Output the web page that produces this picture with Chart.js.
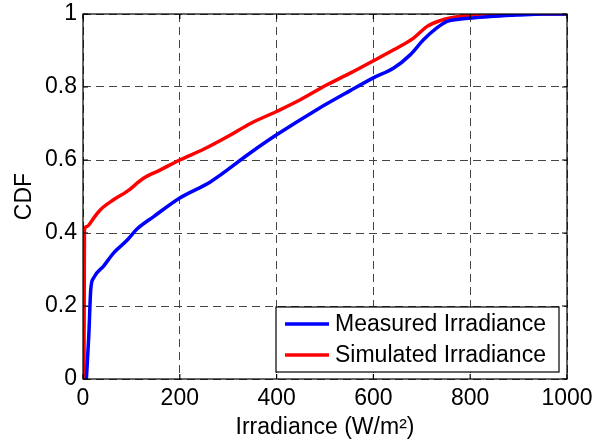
<!DOCTYPE html>
<html>
<head>
<meta charset="utf-8">
<script src="https://cdn.jsdelivr.net/npm/chart.js@4.4.1/dist/chart.umd.min.js"></script>
<style>
  html, body { margin: 0; padding: 0; background: #fff; }
  #wrap { width: 603px; height: 445px; }
</style>
</head>
<body>
<div id="wrap"><canvas id="chart1" width="603" height="445"></canvas></div>
<script>
const seriesNames = ["Measured Irradiance", "Simulated Irradiance"];
const seriesColors = ['#0000ff', '#ff0000'];

// measured irradiance CDF
const xMeasured = [7, 12, 16, 22, 43, 63, 91, 111, 146, 200, 263, 346, 400, 483, 552, 600, 642, 676, 704, 731, 752, 780, 841, 897, 950, 1000];
const yMeasured = [0, 0.12, 0.245, 0.277, 0.31, 0.345, 0.38, 0.41, 0.445, 0.496, 0.54, 0.62, 0.669, 0.738, 0.79, 0.825, 0.852, 0.888, 0.93, 0.962, 0.98, 0.986, 0.993, 0.997, 1, 1];

// simulated irradiance CDF
const xSimulated = [2, 3, 8, 22, 36, 63, 91, 125, 160, 200, 250, 300, 346, 400, 449, 504, 552, 600, 642, 683, 711, 738, 759, 793, 830, 1000];
const ySimulated = [0, 0.408, 0.418, 0.441, 0.464, 0.491, 0.514, 0.55, 0.573, 0.60, 0.63, 0.665, 0.70, 0.733, 0.765, 0.806, 0.838, 0.872, 0.902, 0.934, 0.966, 0.982, 0.989, 0.996, 1, 1];

const xTicks = [0, 200, 400, 600, 800, 1000];
const yTicks = [0, 0.2, 0.4, 0.6, 0.8, 1];

const FONT = '"Liberation Sans", Arial, sans-serif';

function toPoints(xs, ys) {
    return xs.map((x, i) => ({ x: x, y: ys[i] }));
}

// matlab style box, inner tick marks and legend
const boxPlugin = {
    id: 'box',
    afterDraw(chart) {
        const ctx = chart.ctx;
        const a = chart.chartArea;
        const sx = chart.scales.x, sy = chart.scales.y;
        ctx.save();
        ctx.strokeStyle = '#000';
        ctx.lineWidth = 1.2;
        ctx.beginPath();
        xTicks.forEach(v => {
            const px = sx.getPixelForValue(v);
            ctx.moveTo(px, a.bottom); ctx.lineTo(px, a.bottom - 5);
            ctx.moveTo(px, a.top); ctx.lineTo(px, a.top + 5);
        });
        yTicks.forEach(v => {
            const py = sy.getPixelForValue(v);
            ctx.moveTo(a.left, py); ctx.lineTo(a.left + 5, py);
            ctx.moveTo(a.right, py); ctx.lineTo(a.right - 5, py);
        });
        ctx.stroke();
        ctx.strokeRect(a.left, a.top, a.right - a.left, a.bottom - a.top);

        const bx = 276, by = 307, bw = 283, bh = 65;
        ctx.fillStyle = '#fff';
        ctx.fillRect(bx, by, bw, bh);
        ctx.strokeRect(bx, by, bw, bh);
        ctx.font = '23px ' + FONT;
        ctx.textBaseline = 'middle';
        ctx.textAlign = 'left';
        seriesNames.forEach((name, i) => {
            const cy = by + 17 + i * 31;
            ctx.strokeStyle = seriesColors[i];
            ctx.lineWidth = 3.5;
            ctx.beginPath();
            ctx.moveTo(bx + 9, cy);
            ctx.lineTo(bx + 53, cy);
            ctx.stroke();
            ctx.fillStyle = '#000';
            ctx.fillText(name, bx + 59, cy + 1);
        });
        ctx.restore();
    }
};

new Chart("chart1", {
    type: "line",
    data: {
        datasets: [{
            label: seriesNames[0],
            data: toPoints(xMeasured, yMeasured),
            borderColor: seriesColors[0],
            borderWidth: 3.5,
            pointRadius: 0,
            cubicInterpolationMode: 'monotone',
            fill: false
        }, {
            label: seriesNames[1],
            data: toPoints(xSimulated, ySimulated),
            borderColor: seriesColors[1],
            borderWidth: 3.5,
            pointRadius: 0,
            cubicInterpolationMode: 'monotone',
            fill: false
        }]
    },
    options: {
        responsive: false,
        animation: false,
        layout: { padding: { top: 14, right: 36, left: 0, bottom: 0 } },
        plugins: {
            legend: { display: false },
            tooltip: { enabled: false }
        },
        scales: {
            x: {
                type: 'linear',
                min: 0,
                max: 1000,
                afterBuildTicks: (s) => { s.ticks = xTicks.map(v => ({ value: v })); },
                afterFit: (s) => { s.height = 66; s.paddingLeft = 0; s.paddingRight = 0; },
                grid: {
                    color: '#444',
                    lineWidth: 1,
                    drawTicks: false
                },
                border: { display: false, dash: [8, 5] },
                ticks: {
                    color: '#000',
                    padding: 6,
                    maxRotation: 0,
                    font: { family: FONT, size: 23 },
                    callback: (v) => String(v)
                },
                title: {
                    display: true,
                    text: 'Irradiance (W/m²)',
                    color: '#000',
                    padding: { top: 3 },
                    font: { family: FONT, size: 23 }
                }
            },
            y: {
                type: 'linear',
                min: 0,
                max: 1,
                afterBuildTicks: (s) => { s.ticks = yTicks.map(v => ({ value: v })); },
                afterFit: (s) => { s.width = 83; s.paddingTop = 0; s.paddingBottom = 0; },
                grid: {
                    color: '#444',
                    lineWidth: 1,
                    drawTicks: false
                },
                border: { display: false, dash: [8, 5] },
                ticks: {
                    color: '#000',
                    padding: 6,
                    font: { family: FONT, size: 23 },
                    callback: (v) => String(Math.round(v * 10) / 10)
                },
                title: {
                    display: true,
                    text: 'CDF',
                    color: '#000',
                    padding: { top: 11, bottom: 0 },
                    font: { family: FONT, size: 23 }
                }
            }
        }
    },
    plugins: [boxPlugin]
});
</script>
</body>
</html>
